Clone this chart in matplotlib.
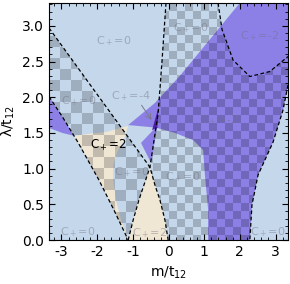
import numpy as np
import matplotlib
matplotlib.use("Agg")
import matplotlib.pyplot as plt
from matplotlib.patches import Polygon
from matplotlib.ticker import MultipleLocator

# boundary curves, (m, lambda) in units of t12
mA = [-3.35, -0.52, -0.38, -0.24, -0.10, -0.01]
lA = [2.97, 1.02, 0.77, 0.56, 0.28, 0.0]
mB = [-3.35, -2.98, -2.54, -1.95, -1.53, -1.13]
lB = [2.01, 1.73, 1.37, 0.84, 0.42, 0.0]
mC = [-0.07, -0.18, -0.29, -0.52, -0.83, -0.99, -1.13]
lC = [3.32, 2.52, 1.78, 1.02, 0.56, 0.28, 0.0]
mD = [3.35, 3.21, 2.93, 2.51, 2.34, 2.28]
lD = [2.17, 1.82, 1.37, 0.91, 0.49, 0.0]
mE = [1.39, 1.50, 1.81, 2.28, 2.84, 3.35]
lE = [3.32, 2.95, 2.52, 2.29, 2.36, 2.57]

# C+ = -2 region
purple_m = [-1.13, -0.38, 0.32, 1.16, 2.00, 3.35, 3.35, 3.21, 2.93, 2.51, 2.34, 2.28,
            1.11, 1.11, 1.02, 0.97, 0.69, 0.18, -0.32, -0.49, -0.77, -0.36]
purple_l = [1.61, 1.92, 2.30, 2.81, 3.32, 3.32, 2.17, 1.82, 1.37, 0.91, 0.49, 0.0,
            0.0, 0.43, 0.91, 1.26, 1.40, 1.50, 1.57, 1.08, 1.36, 1.575]
wedge_m = [-3.35, -2.98, -2.65, -2.98, -3.35]
wedge_l = [2.01, 1.73, 1.46, 1.50, 1.57]
# C+ = -4 sliver
dark_m = [-0.46, -0.31, -0.28]
dark_l = [1.54, 1.57, 1.86]
# C+ = 2 regions
beige_m = [-2.65, -2.20, -1.78, -1.41, -1.13, -1.25, -1.44, -1.55, -1.55, -1.47, -1.33,
           -1.13, -1.53, -1.95, -2.54]
beige_l = [1.46, 1.49, 1.51, 1.56, 1.60, 1.40, 1.23, 1.05, 0.84, 0.56, 0.28,
           0.0, 0.42, 0.84, 1.37]
tri_m = [-0.52, -0.38, -0.24, -0.10, -0.01, -1.13, -0.99, -0.83]
tri_l = [1.02, 0.77, 0.56, 0.28, 0.0, 0.0, 0.28, 0.56]

labels = ['C$_+$=0', 'C$_+$=0', 'C$_+$=-4', 'C$_+$=0', 'C$_+$=-2', 'C$_+$=-2',
          'C$_+$=0', 'C$_+$=0', 'C$_+$=0', 'C$_+$=2', 'C$_+$=0']
label_m = [-1.55, -2.51, -1.05, 0.63, 2.54, 1.41, -1.02, 0.41, -2.54, -0.52, 2.79]
label_l = [2.78, 1.94, 2.01, 2.97, 2.85, 1.68, 0.95, 0.88, 0.11, 0.10, 0.11]

xlim = (-3.35, 3.35)
ylim = (0, 3.32)

blue = '#c4d7eb'
purple = '#8c80e6'
beige = '#efe6d4'
darkpurple = '#4f1fa6'

fig = plt.figure(figsize=(2.9, 2.84), dpi=100)
ax = fig.add_axes([49 / 290, 44 / 284, 239 / 290, 237 / 284])
ax.set_facecolor(blue)

ax.fill(purple_m, purple_l, color=purple, lw=0)
ax.fill(wedge_m, wedge_l, color=purple, lw=0)
ax.fill(beige_m, beige_l, color=beige, lw=0)
ax.fill(tri_m, tri_l, color=beige, lw=0)
ax.fill(dark_m, dark_l, color=darkpurple, lw=0)


def checker(verts, sx, sy):
    nx = int(np.ceil((xlim[1] - xlim[0]) / sx)) + 1
    ny = int(np.ceil((ylim[1] - ylim[0]) / sy)) + 1
    j, i = np.indices((ny, nx))
    img = np.zeros((ny, nx, 4))
    img[..., 3] = ((i + j) % 2) * 0.19
    im = ax.imshow(img, extent=(xlim[0], xlim[0] + nx * sx, ylim[1] - ny * sy, ylim[1]),
                   origin='upper', interpolation='nearest', aspect='auto', zorder=1.5)
    clip = Polygon(verts, closed=True, transform=ax.transData, fc='none', ec='none')
    ax.add_patch(clip)
    im.set_clip_path(clip)


# odd regions get the checkerboard
reg1 = list(zip(mA[:2], lA[:2])) + list(zip(mC[4:], lC[4:])) + list(zip(mB[::-1], lB[::-1]))
reg2 = (list(zip(mC[:4], lC[:4])) + list(zip(mA[2:], lA[2:])) + list(zip(mD[::-1], lD[::-1]))
        + list(zip(mE[::-1], lE[::-1])))
checker(reg1, 11 / 35.7, 11 / 71.3)
checker(reg2, 8 / 35.7, 8 / 71.3)

dash = dict(color='k', lw=0.9, ls=(0, (3, 2)), zorder=3)
for mm, ll in [(mA, lA), (mB, lB), (mC, lC), (mD, lD), (mE, lE)]:
    ax.plot(mm, ll, **dash)

for t, x, y in zip(labels, label_m, label_l):
    ax.text(x, y, t, fontsize=8, color='#6f7080', alpha=0.45, ha='center', va='center', zorder=4)
ax.text(-1.67, 1.33, 'C$_+$=2', fontsize=8.5, color='k', ha='center', va='center', zorder=4)
ax.annotate('', xy=(-0.43, 1.65), xytext=(-0.80, 1.92),
            arrowprops=dict(arrowstyle='->', color='#7a7a8a', lw=0.7), zorder=4)

ax.set_xlim(xlim)
ax.set_ylim(ylim)
ax.xaxis.set_major_locator(MultipleLocator(1))
ax.xaxis.set_minor_locator(MultipleLocator(0.2))
ax.yaxis.set_major_locator(MultipleLocator(0.5))
ax.yaxis.set_minor_locator(MultipleLocator(0.1))
ax.tick_params(which='both', direction='in', top=True, right=True, labelsize=10)
ax.tick_params(which='major', length=4)
ax.tick_params(which='minor', length=2)
ax.set_xticks(range(-3, 4))
ax.set_xticklabels([str(v) for v in range(-3, 4)])
ax.set_yticklabels(['%.1f' % v for v in ax.get_yticks()])
ax.set_xlabel('m/t$_{12}$', fontsize=10, labelpad=4)
ax.set_ylabel('λ/t$_{12}$', fontsize=10, labelpad=4)

fig.savefig('out.png', dpi=100)
